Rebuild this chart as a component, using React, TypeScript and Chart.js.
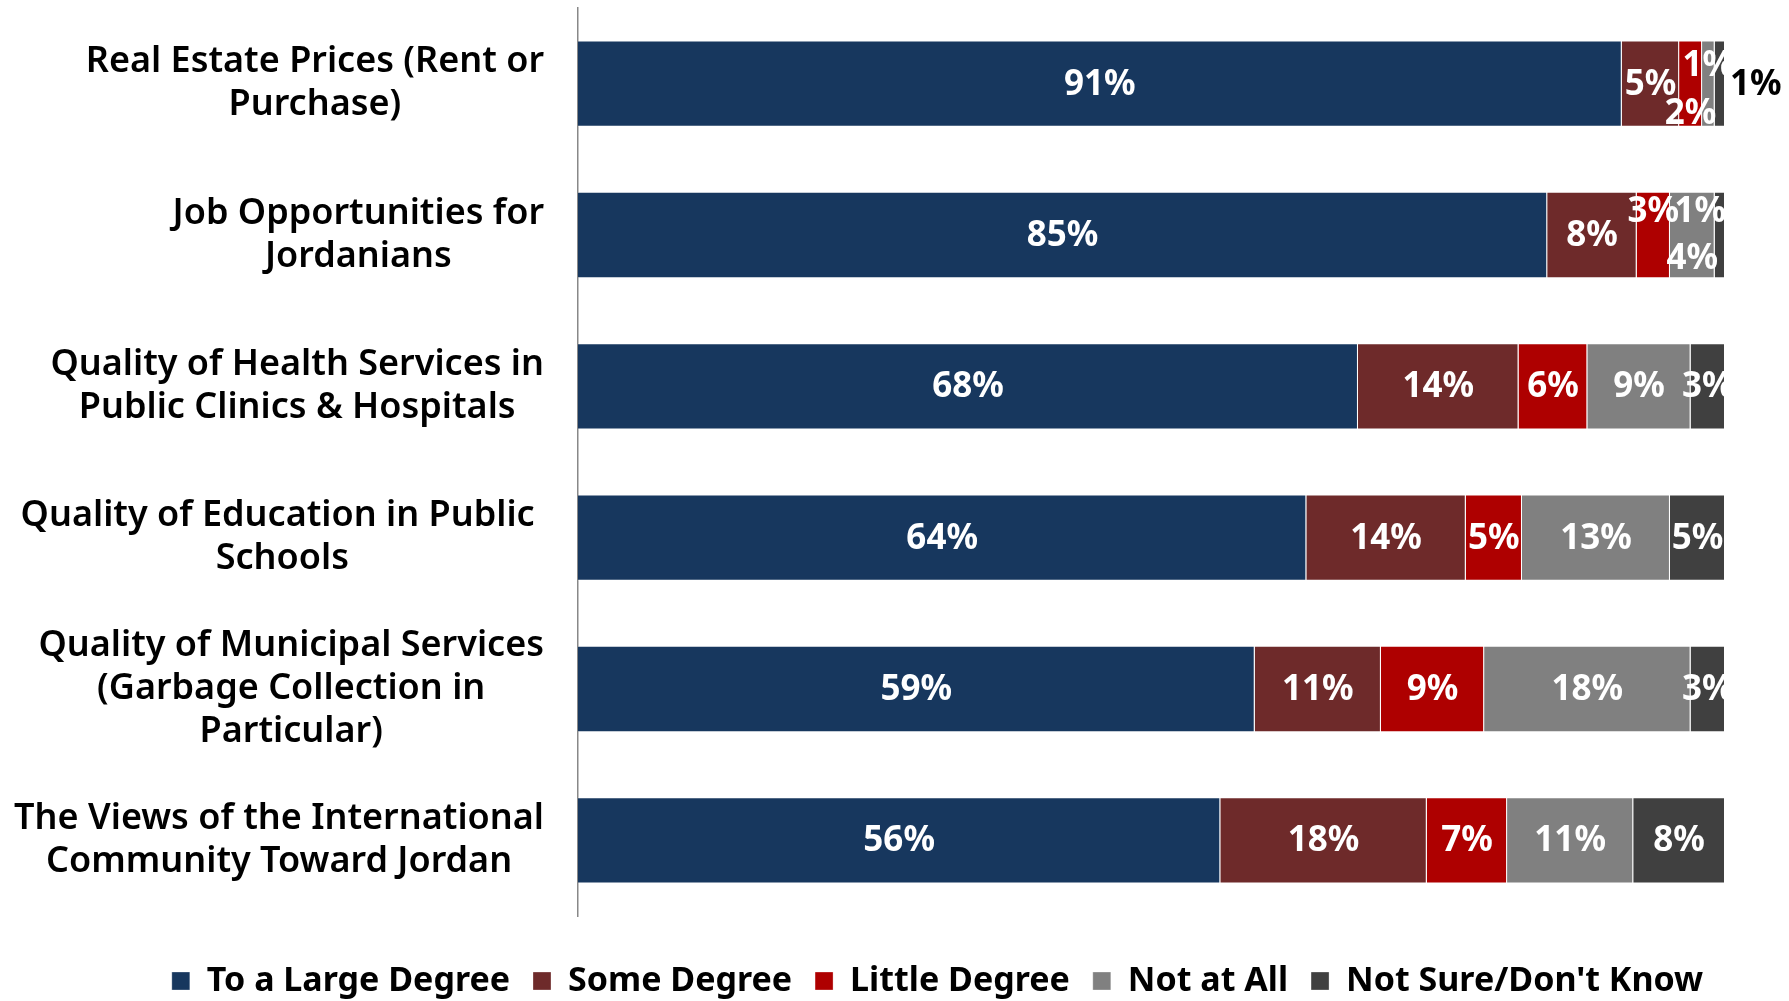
import React, { useEffect, useRef } from "react";
import { Chart, registerables } from "chart.js";

Chart.register(...registerables);

const categories: string[][] = [
  ["Real Estate Prices (Rent or", "Purchase)"],
  ["Job Opportunities for", "Jordanians"],
  ["Quality of Health Services in", "Public Clinics & Hospitals"],
  ["Quality of Education in Public ", "Schools"],
  ["Quality of Municipal Services", "(Garbage Collection in", "Particular)"],
  ["The Views of the International", "Community Toward Jordan"],
];

const seriesNames = [
  "To a Large Degree",
  "Some Degree",
  "Little Degree",
  "Not at All",
  "Not Sure/Don't Know",
];

const largeDegree = [91, 84.5, 68, 63.5, 59, 56];
const someDegree = [5, 7.8, 14, 13.9, 11, 18];
const littleDegree = [2, 2.9, 6, 4.9, 9, 7];
const notAtAll = [1.1, 3.9, 9, 12.9, 18, 11];
const notSure = [0.9, 0.9, 3, 4.8, 3, 8];

const seriesColors = ["#17375E", "#6E2A2A", "#AE0000", "#808080", "#404040"];

const FONT = "'Noto Sans', 'DejaVu Sans', sans-serif";

// special placement of crowded labels: key "row-series"
const labelPlacement: Record<string, { dy?: number; mode?: "outside" | "rightEdge" }> = {
  "0-2": { dy: 29 },
  "0-3": { dy: -19 },
  "0-4": { mode: "outside" },
  "1-2": { dy: -24 },
  "1-3": { dy: 23 },
  "1-4": { dy: -24, mode: "rightEdge" },
};

const dataLabelPlugin = {
  id: "dataLabels",
  afterDatasetsDraw(chart: any) {
    const ctx = chart.ctx;
    ctx.save();
    ctx.font = `bold 35px ${FONT}`;
    ctx.textBaseline = "middle";
    chart.data.datasets.forEach((ds: any, di: number) => {
      const meta = chart.getDatasetMeta(di);
      meta.data.forEach((el: any, i: number) => {
        const v = ds.data[i];
        const text = `${Math.round(v)}%`;
        const p = labelPlacement[`${i}-${di}`] || {};
        const left = Math.min(el.x, el.base);
        const right = Math.max(el.x, el.base);
        let x = (left + right) / 2;
        const y = el.y + 1 + (p.dy || 0);
        ctx.fillStyle = "#ffffff";
        ctx.textAlign = "center";
        if (p.mode === "outside") {
          x = right + 5;
          ctx.textAlign = "left";
          ctx.fillStyle = "#000000";
        } else if (p.mode === "rightEdge") {
          x = right + 1;
          ctx.textAlign = "right";
        }
        ctx.fillText(text, x, y);
      });
    });
    ctx.restore();
  },
};

const categoryLabelPlugin = {
  id: "categoryLabels",
  afterDraw(chart: any) {
    const ctx = chart.ctx;
    const yScale = chart.scales.y;
    const rightEdge = 544;
    const lineH = 43;
    ctx.save();
    ctx.font = `600 36px ${FONT}`;
    ctx.fillStyle = "#000000";
    ctx.textAlign = "center";
    ctx.textBaseline = "middle";
    categories.forEach((lines, i) => {
      const yc = yScale.getPixelForTick(i);
      const blockW = Math.max(...lines.map((l) => ctx.measureText(l).width));
      const cx = rightEdge - blockW / 2;
      const y0 = yc - ((lines.length - 1) * lineH) / 2;
      lines.forEach((l, k) => {
        const trail = l.endsWith(" ") ? ctx.measureText(" ").width : 0;
        ctx.fillText(l.trimEnd(), cx - trail / 2, y0 + k * lineH);
      });
    });
    ctx.restore();
  },
};

export default function App() {
  const ref = useRef<HTMLCanvasElement | null>(null);

  useEffect(() => {
    if (!ref.current) return;
    const series = [largeDegree, someDegree, littleDegree, notAtAll, notSure];
    const chart = new Chart(ref.current, {
      type: "bar",
      data: {
        labels: categories.map((c) => c.join(" ")),
        datasets: series.map((d, i) => ({
          label: seriesNames[i],
          data: d,
          backgroundColor: seriesColors[i],
          borderColor: "rgba(255,255,255,0.3)",
          borderWidth: 1,
          barPercentage: 0.57,
          categoryPercentage: 1,
        })),
      },
      options: {
        indexAxis: "y",
        animation: false,
        responsive: false,
        layout: { padding: { left: 86, right: 0, top: 8, bottom: -7 } },
        scales: {
          x: {
            stacked: true,
            min: 0,
            max: 100,
            display: true,
            ticks: { display: false },
            grid: { display: false },
            border: { display: false },
            afterFit: (s: any) => {
              s.height = 25;
            },
          },
          y: {
            stacked: true,
            ticks: { display: false },
            grid: { display: false },
            border: { display: true, color: "#888888", width: 1.5 },
            afterFit: (s: any) => {
              s.width = 492;
            },
          },
          spacer: {
            type: "linear",
            axis: "y",
            position: "right",
            display: true,
            ticks: { display: false },
            grid: { display: false },
            border: { display: false },
            afterFit: (s: any) => {
              s.width = 64;
            },
          },
        },
        plugins: {
          legend: {
            position: "bottom",
            labels: {
              boxWidth: 18,
              boxHeight: 18,
              padding: 23,
              color: "#000000",
              font: { family: FONT, size: 34, weight: "bold" },
            },
          },
          tooltip: { enabled: false },
        },
      },
      plugins: [dataLabelPlugin, categoryLabelPlugin],
    } as any);
    return () => chart.destroy();
  }, []);

  return (
    <div style={{ position: "absolute", left: 0, top: 0, width: 1789, height: 1001, background: "#fff" }}>
      <canvas ref={ref} width={1789} height={1001} />
    </div>
  );
}
